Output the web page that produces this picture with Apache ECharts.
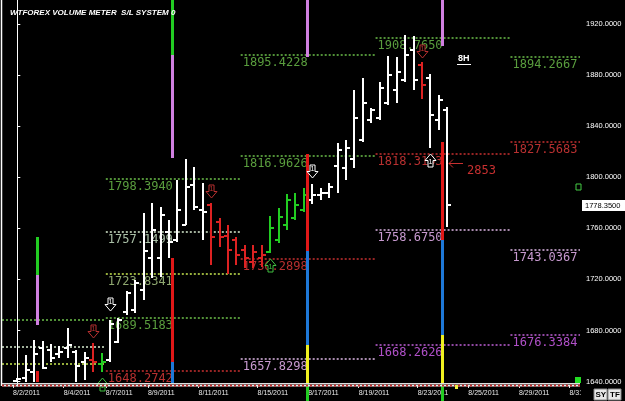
<!DOCTYPE html>
<html><head><meta charset="utf-8">
<script src="https://cdn.jsdelivr.net/npm/echarts/dist/echarts.min.js"></script>
<style>html,body{margin:0;padding:0;background:#000;}#c{width:625px;height:401px;}</style>
</head><body><div id="c"></div>
<script>
// ---- 8H OHLC bars (index = bar slot) ----
const barOpen  = [1640.4,1642.75,1647.45,1666.24,1664.68,1661.54,1666.24,1663.11,1655.28,1656.84,1653.71,1656.84,1670.94,1694.44,1696.0,1711.67,1736.73,1736.73,1757.1,1750.83,1762.58,1793.91,1774.33,1778.24,1764.93,1753.96,1750.83,1743.0,1733.6,1736.73,1741.43,1750.83,1762.58,1768.06,1774.33,1782.16,1786.07,1787.64,1808.79,1807.22,1814.27,1829.15,1844.81,1846.38,1858.13,1868.31,1876.14,1899.64,1887.89,1877.71,1844.81,1852.65];
const barHigh  = [1642.75,1660.76,1672.5,1671.7,1669.38,1667.81,1681.9,1664.68,1663.11,1670.16,1662.33,1688.17,1689.74,1710.89,1719.5,1771.98,1779.81,1776.68,1766.49,1797.82,1814.27,1808.0,1795.47,1779.81,1768.06,1762.58,1753.18,1746.91,1746.91,1746.91,1769.63,1775.89,1786.86,1787.64,1791.56,1794.69,1791.56,1795.47,1826.8,1829.15,1868.31,1877.71,1854.21,1874.58,1894.94,1894.16,1911.39,1910.6,1890.24,1880.84,1864.4,1855.0];
const barLow   = [1639.6,1639.6,1639.6,1649.8,1655.28,1658.41,1658.41,1639.6,1641.18,1647.45,1647.45,1655.28,1670.16,1692.09,1693.66,1703.84,1721.07,1721.85,1736.73,1749.26,1762.58,1774.33,1750.83,1731.25,1745.35,1724.2,1731.25,1728.9,1728.9,1729.68,1740.65,1748.48,1758.66,1766.49,1772.76,1779.03,1782.16,1783.72,1787.64,1797.82,1807.22,1827.58,1842.46,1844.81,1856.56,1858.13,1874.58,1868.31,1861.26,1822.88,1836.98,1761.01];
const barClose = [1641.96,1649.0,1661.54,1650.58,1658.41,1663.11,1668.59,1652.14,1658.41,1655.28,1655.28,1685.04,1688.17,1709.32,1717.15,1742.21,1758.66,1770.41,1749.26,1774.33,1792.34,1776.68,1772.76,1753.18,1753.18,1743.0,1739.08,1736.73,1741.43,1739.08,1760.23,1768.84,1782.16,1778.24,1786.07,1786.07,1787.64,1792.34,1821.32,1822.88,1846.38,1858.13,1852.65,1869.88,1880.06,1882.41,1895.72,1876.14,1872.23,1848.73,1860.48,1778.35];
const barSignal = ['w','w','w','w','w','w','w','w','w','r','g','w','w','w','w','w','w','w','w','w','w','w','w','r','r','r','r','r','r','r','g','g','g','g','g','w','w','w','w','w','w','w','w','w','w','w','w','w','r','w','w','w'];

// ---- axis ticks ----
const dateTickIdx = [-0.5,5.5,10.5,15.5,21.5,28.5,34.5,40.5,47.5,53.5,59.5,65.5];
const dateLabels  = ['8/2/2011','8/4/2011','8/7/2011','8/9/2011','8/11/2011','8/15/2011','8/17/2011','8/19/2011','8/23/2011','8/25/2011','8/29/2011','8/31/2011'];
const priceTicks  = [1640,1680,1720,1760,1800,1840,1880,1920];

// ---- S/L levels ----
const levelStart = [-1.815,-1.815,-1.815,10.5,10.5,10.5,10.5,10.5,26.5,26.5,26.5,26.5,42.5,42.5,42.5,42.5,58.5,58.5,58.5,58.5];
const levelEnd   = [10.5,10.5,10.5,26.5,26.5,26.5,26.5,26.5,42.5,42.5,42.5,42.5,58.5,58.5,58.5,58.5,66.75,66.75,66.75,66.75];
const levelValue = [1688.17,1667.03,1653.71,1798.394,1757.1499,1723.8341,1689.5183,1648.2742,1895.4228,1816.9626,1736.2898,1657.8298,1908.765,1818.3103,1758.675,1668.2626,1894.2667,1827.5683,1743.0367,1676.3384];
const levelKind  = ['g','w','y','g','w','y','g','r','g','g','r','p','g','r','p','v','g','r','p','v'];
const levelLabel = ['','','','1798.3940','1757.1499','1723.8341','1689.5183','1648.2742','1895.4228','1816.9626','1736.2898','1657.8298','1908.7650','1818.3103','1758.6750','1668.2626','1894.2667','1827.5683','1743.0367','1676.3384'];

// ---- volume meter segments ----
const meterIdx  = [2.35,18.35,34.35,50.35];
const segMeter  = [0,0,0, 1,1,1,1, 2,2,2,2,2, 3,3,3,3,3];
const segFrom   = [1753.18,1723.42,1648.23, 1938.8,1895.72,1736.73,1655.28, 1938.8,1818.19,1742.21,1668.59,1638.83, 1938.8,1827.58,1750.83,1676.42,1638.83];
const segTo     = [1723.42,1684.26,1639.6, 1895.72,1815.05,1655.28,1638.83, 1894.16,1742.21,1668.59,1638.83,1624.7, 1902.77,1750.83,1676.42,1638.83,1624.7];
const segKind   = ['g','p','r', 'g','p','r','b', 'p','r','b','y','g', 'p','r','b','y','g'];

// ---- signal arrows ----
const arrowIdx   = [9,10,11,23,30,35,48,49];
const arrowPrice = [1679.56,1638.05,1700.7,1789.2,1731.25,1804.87,1898.85,1813.48];
const arrowDir   = ['down','up','down','down','up','down','down','up'];
const arrowKind  = ['r','g','w','r','g','w','r','w'];

// ---- annotation ----
const noteIdx = [51];
const notePrice = [1811.13];
const noteText = ['2853'];

const signalColor = {w:'#ffffff', r:'#dd2222', g:'#22cc22'};
const levelLineColor = {g:'#6cc04a', w:'#d8ecd0', y:'#c8e850', r:'#c83030', p:'#e0b8e8', v:'#c060d8'};
const levelTextColor = {g:'#5a9e3e', w:'#a9bfa6', y:'#8fa870', r:'#b83030', p:'#c89ad0', v:'#b050c8'};
const meterColor = {g:'#22cc22', p:'#d080e0', r:'#e01818', b:'#1e78d8', y:'#f0f020'};
const arrowColor = {w:'#ffffff', r:'#b83030', g:'#40c040'};
const MONO = '"DejaVu Sans Mono", monospace';
const SANS = '"Liberation Sans", Arial, sans-serif';

const chart = echarts.init(document.getElementById('c'), null, {renderer:'canvas'});
const crisp = v => Math.round(v);

const option = {
  backgroundColor:'#000',
  animation:false,
  title:{text:'WTFOREX VOLUME METER  S/L SYSTEM 0', left:5, top:4,
    textStyle:{color:'#fff', fontSize:8, fontWeight:'bold', fontStyle:'italic', fontFamily:SANS}},
  grid:{left:2, right:45, top:0, bottom:15},
  xAxis:{type:'value', min:-1.815, max:66.75,
    axisLine:{show:false},
    splitLine:{show:false},
    axisTick:{show:true, customValues:dateTickIdx, length:2, lineStyle:{color:'#ddd'}},
    axisLabel:{customValues:dateTickIdx, color:'#e8e8e8', fontSize:7, fontFamily:SANS, align:'left', margin:4,
      formatter:v=>{const k=dateTickIdx.findIndex(t=>Math.abs(t-v)<1e-6); return k>=0?dateLabels[k]:'';}}
  },
  yAxis:{type:'value', position:'right', min:1636.5, max:1938.8,
    axisLine:{show:true, lineStyle:{color:'#fff', width:1}},
    axisTick:{show:true, customValues:priceTicks, length:3, lineStyle:{color:'#fff'}},
    axisLabel:{customValues:priceTicks, color:'#fff', fontSize:7.5, fontFamily:SANS, margin:6, formatter:v=>v.toFixed(4)},
    splitLine:{show:false}
  },
  series:[
    { // levels
      type:'custom', clip:true, z:2,
      data: levelValue.map((v,i)=>[levelStart[i], levelEnd[i], v, i]),
      encode:{x:[0,1], y:2},
      renderItem:(params, api)=>{
        const i = api.value(3);
        const a = api.coord([api.value(0), api.value(2)]);
        const b = api.coord([api.value(1), api.value(2)]);
        const y = crisp(a[1]);
        const k = levelKind[i];
        const ch = [{type:'line', shape:{x1:a[0], y1:y, x2:b[0], y2:y},
          style:{stroke:levelLineColor[k], lineWidth:1.5, lineDash:[2,2]}}];
        if (levelLabel[i]) ch.push({type:'text', style:{text:levelLabel[i], x:a[0]+2, y:y+2,
          fill:levelTextColor[k], font:'12px '+MONO, verticalAlign:'top', align:'left'}});
        return {type:'group', children:ch};
      }
    },
    { // OHLC bars
      type:'custom', z:3,
      data: barOpen.map((o,i)=>[i, o, barClose[i], barLow[i], barHigh[i]]),
      encode:{x:0, y:[1,2,3,4]},
      renderItem:(params, api)=>{
        const i = api.value(0);
        const hi = api.coord([i, api.value(4)]), lo = api.coord([i, api.value(3)]);
        const op = api.coord([i, api.value(1)]), cl = api.coord([i, api.value(2)]);
        const x = crisp(hi[0]);
        const c = signalColor[barSignal[params.dataIndex]];
        return {type:'group', children:[
          {type:'line', shape:{x1:x, y1:hi[1], x2:x, y2:lo[1]}, style:{stroke:c, lineWidth:2}},
          {type:'line', shape:{x1:x-4, y1:crisp(op[1]), x2:x, y2:crisp(op[1])}, style:{stroke:c, lineWidth:2}},
          {type:'line', shape:{x1:x, y1:crisp(cl[1]), x2:x+4, y2:crisp(cl[1])}, style:{stroke:c, lineWidth:2}}
        ]};
      }
    },
    { // volume meter
      type:'custom', clip:false, z:4,
      data: segFrom.map((f,i)=>[meterIdx[segMeter[i]], f, segTo[i], i]),
      encode:{x:0, y:[1,2]},
      renderItem:(params, api)=>{
        const a = api.coord([api.value(0), api.value(1)]);
        const b = api.coord([api.value(0), api.value(2)]);
        const x = Math.round(a[0])+0.5;
        return {type:'line', shape:{x1:x, y1:a[1], x2:x, y2:b[1]},
          style:{stroke:meterColor[segKind[api.value(3)]], lineWidth:3}};
      }
    },
    { // arrows
      type:'custom', clip:false, z:5,
      data: arrowIdx.map((x,i)=>[x, arrowPrice[i], i]),
      encode:{x:0, y:1},
      renderItem:(params, api)=>{
        const i = api.value(2);
        const p = api.coord([api.value(0), api.value(1)]);
        const s = arrowDir[i]==='down' ? 1 : -1;
        const col = arrowColor[arrowKind[i]];
        const x = Math.round(p[0])+0.5, y = Math.round(p[1])+0.5;
        const pts = [[-2.5,-6.5*s],[2.5,-6.5*s],[2.5,0],[5.5,0],[0,6.5*s],[-5.5,0],[-2.5,0]].map(q=>[x+q[0], y+q[1]]);
        return {type:'group', children:[
          {type:'polygon', shape:{points:pts}, style:{fill:'#000', stroke:col, lineWidth:1}},
          {type:'text', style:{text:'1', x:x, y:y-2*s, fill:col, font:'7px '+SANS, align:'center', verticalAlign:'middle'}}
        ]};
      }
    },
    { // note arrow + text
      type:'custom', clip:false, z:6,
      data: noteIdx.map((x,i)=>[x, notePrice[i], i]),
      encode:{x:0, y:1},
      renderItem:(params, api)=>{
        const i = api.value(2);
        const p = api.coord([api.value(0), api.value(1)]);
        const x = Math.round(p[0])+2, y = Math.round(p[1])+0.5;
        const col = '#c83030';
        return {type:'group', children:[
          {type:'line', shape:{x1:x, y1:y, x2:x+14, y2:y}, style:{stroke:col, lineWidth:1}},
          {type:'polyline', shape:{points:[[x+4,y-4],[x,y],[x+4,y+4]]}, style:{stroke:col, lineWidth:1, fill:null}},
          {type:'text', style:{text:noteText[i], x:x+18, y:y+7, fill:col, font:'12px '+MONO, align:'left', verticalAlign:'middle'}}
        ]};
      }
    },
    { // current price box
      type:'custom', clip:false, z:7,
      data:[[barClose.length-1, barClose[barClose.length-1]]],
      encode:{x:0, y:1},
      renderItem:(params, api)=>{
        const p = api.coord([api.value(0), api.value(1)]);
        const gx = params.coordSys.x + params.coordSys.width;
        const y = Math.round(p[1]);
        return {type:'group', children:[
          {type:'rect', shape:{x:gx+2, y:y-5, width:43, height:11}, style:{fill:'#fff'}},
          {type:'text', style:{text:api.value(1).toFixed(4), x:gx+5, y:y+0.5, fill:'#000', font:'7.5px '+SANS, verticalAlign:'middle'}}
        ]};
      }
    }
  ],
  graphic:[
    {type:'line', shape:{x1:1.5, y1:0, x2:1.5, y2:386}, style:{stroke:'#fff', lineWidth:1.5}, z:10},
    {type:'line', shape:{x1:2, y1:383.5, x2:580, y2:383.5}, style:{stroke:'#ddd', lineWidth:1}, z:10},
    {type:'line', shape:{x1:2, y1:385.5, x2:580, y2:385.5}, style:{stroke:'#eee', lineWidth:2}, z:10},
    {type:'line', shape:{x1:2, y1:385.5, x2:580, y2:385.5}, style:{stroke:'#c03030', lineWidth:2, lineDash:[2,2]}, z:11},
    {type:'rect', shape:{x:581, y:387, width:44, height:14}, style:{fill:'#000'}, z:20},
    {type:'rect', shape:{x:575, y:377, width:6, height:6}, style:{fill:'#22dd22'}, z:20},
    {type:'rect', shape:{x:455, y:385, width:3, height:4}, style:{fill:'#f0f040'}, z:20},
    {type:'rect', shape:{x:576, y:184, width:5, height:6}, style:{fill:'#000', stroke:'#4c4', lineWidth:1}, z:20},
    {type:'text', style:{text:'8H', x:458, y:54, fill:'#fff', font:'bold 9px '+SANS}, z:20},
    {type:'line', shape:{x1:457, y1:64.5, x2:471, y2:64.5}, style:{stroke:'#fff', lineWidth:1}, z:20},
    {type:'rect', shape:{x:594, y:389, width:13, height:11}, style:{fill:'#e8e8e8', stroke:'#888', lineWidth:1}, z:21},
    {type:'text', style:{text:'SY', x:595.5, y:390.5, fill:'#000', font:'bold 8px '+SANS}, z:22},
    {type:'rect', shape:{x:608, y:389, width:13, height:11}, style:{fill:'#e8e8e8', stroke:'#888', lineWidth:1}, z:21},
    {type:'text', style:{text:'TF', x:610, y:390.5, fill:'#000', font:'bold 8px '+SANS}, z:22}
  ]
};
chart.setOption(option);
</script>
</body></html>
